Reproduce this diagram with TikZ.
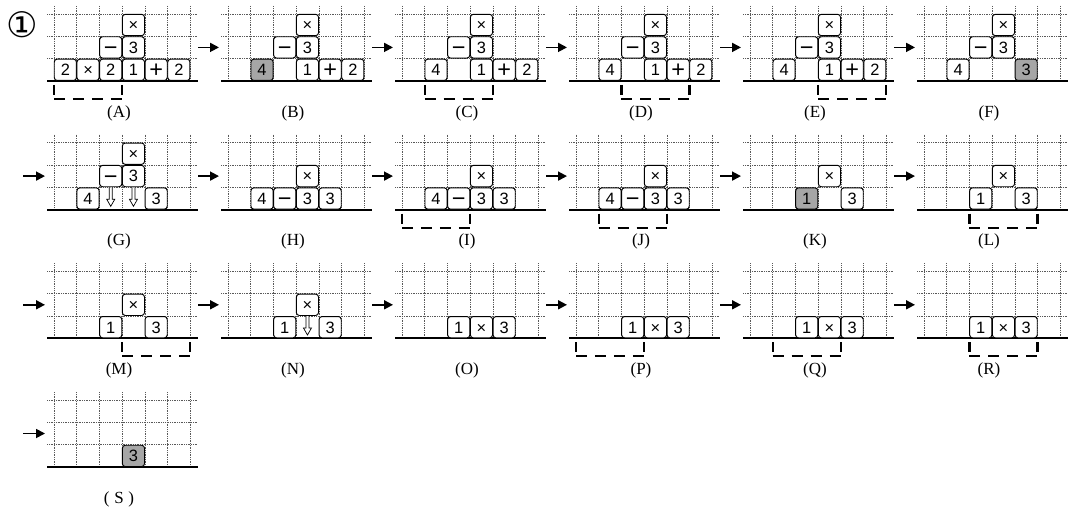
\documentclass[tikz,border=0pt]{standalone}
\usepackage{fontspec}
\setmainfont{Liberation Serif}
\newfontfamily\tilesans{Liberation Sans}
\newfontfamily\symfont{DejaVu Sans}
\usetikzlibrary{arrows.meta}

\newcommand\cw{22.7}
\newcommand\ch{22.4}
\newcommand\opr[1]{\raisebox{-1.8pt}[0pt][0pt]{\fontsize{20}{20}\selectfont#1}}

% one frame: name, column, row, label, contents
\newcommand\panel[5]{%
  \begin{scope}[shift={({54+174*#2},{81+128.7*#3})}]
    \def\pn{#1}
    \foreach \i in {0,...,6} \draw[gridline] (\i*\cw,-75) -- (\i*\cw,0);
    \foreach \j in {1,2,3} \draw[gridline] (-7,-\j*\ch) -- (143,-\j*\ch);
    \draw[ground] (-7,0) -- (144,0);
    \coordinate (#1-e) at (144,-33.6);
    \coordinate (#1-w) at (-9,-33.6);
    \coordinate (#1-lead) at (-31,-33.6);
    #5
    \node[lbl] (#1-lbl) at (65,32) {#4};
  \end{scope}}
\newcommand\tile[4][]{\node[tile,#1] (\pn-#2#3) at ({(#2+0.5)*\cw},{-(#3+0.5)*\ch}) {#4};}
\newcommand\brk[1]{%
  \draw[brtick] (#1*\cw,4) -- (#1*\cw,14);
  \draw[brtick] ({(#1+3)*\cw},4) -- ({(#1+3)*\cw},14);
  \draw[brline] (#1*\cw,18) -- ({(#1+3)*\cw},18);}
\newcommand\drop[1]{%
  \draw[hollow] ({(#1+0.5)*\cw-1.5},-\ch) -- ++(0,12) -- ++(-2.5,0) -- ++(4,7)
    -- ++(4,-7) -- ++(-2.5,0) -- ++(0,-12);}

\begin{document}
\begin{tikzpicture}[x=0.03cm,y=-0.03cm,
  gridline/.style={line width=0.5pt,black!65,dash pattern=on 0.6pt off 0.9pt},
  ground/.style={line width=1.7pt,black},
  tile/.style={draw=black,line width=0.8pt,rounded corners=2.5pt,fill=white,
               minimum width=0.665cm,minimum height=0.64cm,inner sep=0pt,
               text height=10pt,text depth=0pt,font=\tilesans\fontsize{14}{14}\selectfont},
  hilite/.style={fill=black!35},
  brtick/.style={line width=2pt,black},
  brline/.style={line width=1.7pt,black,dash pattern=on 9.4pt off 6.8pt},
  hollow/.style={line width=0.6pt,black,fill=white,line join=miter},
  lbl/.style={font=\fontsize{14.5}{16}\selectfont},
  flow/.style={-{Triangle[length=7.5pt,width=7.5pt]},line width=1.5pt}]

  \useasboundingbox (0,0) rectangle (1076,509);

  \node[font=\symfont\fontsize{30}{30}\selectfont] (num) at (22,25) {①};

  % first row
  \panel{A}{0}{0}{(A)}{%
    \tile{0}{0}{2}\tile{1}{0}{×}\tile{2}{0}{2}\tile{3}{0}{1}\tile{4}{0}{\opr{+}}\tile{5}{0}{2}
    \tile{2}{1}{\opr{−}}\tile{3}{1}{3}\tile{3}{2}{×}
    \brk{0}}
  \panel{B}{1}{0}{(B)}{%
    \tile[hilite]{1}{0}{4}\tile{3}{0}{1}\tile{4}{0}{\opr{+}}\tile{5}{0}{2}
    \tile{2}{1}{\opr{−}}\tile{3}{1}{3}\tile{3}{2}{×}}
  \panel{C}{2}{0}{(C)}{%
    \tile{1}{0}{4}\tile{3}{0}{1}\tile{4}{0}{\opr{+}}\tile{5}{0}{2}
    \tile{2}{1}{\opr{−}}\tile{3}{1}{3}\tile{3}{2}{×}
    \brk{1}}
  \panel{D}{3}{0}{(D)}{%
    \tile{1}{0}{4}\tile{3}{0}{1}\tile{4}{0}{\opr{+}}\tile{5}{0}{2}
    \tile{2}{1}{\opr{−}}\tile{3}{1}{3}\tile{3}{2}{×}
    \brk{2}}
  \panel{E}{4}{0}{(E)}{%
    \tile{1}{0}{4}\tile{3}{0}{1}\tile{4}{0}{\opr{+}}\tile{5}{0}{2}
    \tile{2}{1}{\opr{−}}\tile{3}{1}{3}\tile{3}{2}{×}
    \brk{3}}
  \panel{F}{5}{0}{(F)}{%
    \tile{1}{0}{4}\tile[hilite]{4}{0}{3}
    \tile{2}{1}{\opr{−}}\tile{3}{1}{3}\tile{3}{2}{×}}

  % second row
  \panel{G}{0}{1}{(G)}{%
    \tile{1}{0}{4}\drop{2}\drop{3}\tile{4}{0}{3}
    \tile{2}{1}{\opr{−}}\tile{3}{1}{3}\tile{3}{2}{×}}
  \panel{H}{1}{1}{(H)}{%
    \tile{1}{0}{4}\tile{2}{0}{\opr{−}}\tile{3}{0}{3}\tile{4}{0}{3}\tile{3}{1}{×}}
  \panel{I}{2}{1}{(I)}{%
    \tile{1}{0}{4}\tile{2}{0}{\opr{−}}\tile{3}{0}{3}\tile{4}{0}{3}\tile{3}{1}{×}
    \brk{0}}
  \panel{J}{3}{1}{(J)}{%
    \tile{1}{0}{4}\tile{2}{0}{\opr{−}}\tile{3}{0}{3}\tile{4}{0}{3}\tile{3}{1}{×}
    \brk{1}}
  \panel{K}{4}{1}{(K)}{%
    \tile[hilite]{2}{0}{1}\tile{4}{0}{3}\tile{3}{1}{×}}
  \panel{L}{5}{1}{(L)}{%
    \tile{2}{0}{1}\tile{4}{0}{3}\tile{3}{1}{×}
    \brk{2}}

  % third row
  \panel{M}{0}{2}{(M)}{%
    \tile{2}{0}{1}\tile{4}{0}{3}\tile{3}{1}{×}
    \brk{3}}
  \panel{N}{1}{2}{(N)}{%
    \tile{2}{0}{1}\drop{3}\tile{4}{0}{3}\tile{3}{1}{×}}
  \panel{O}{2}{2}{(O)}{%
    \tile{2}{0}{1}\tile{3}{0}{×}\tile{4}{0}{3}}
  \panel{P}{3}{2}{(P)}{%
    \tile{2}{0}{1}\tile{3}{0}{×}\tile{4}{0}{3}
    \brk{0}}
  \panel{Q}{4}{2}{(Q)}{%
    \tile{2}{0}{1}\tile{3}{0}{×}\tile{4}{0}{3}
    \brk{1}}
  \panel{R}{5}{2}{(R)}{%
    \tile{2}{0}{1}\tile{3}{0}{×}\tile{4}{0}{3}
    \brk{2}}

  % last row
  \panel{S}{0}{3}{(\;S\;)}{%
    \tile[hilite]{3}{0}{3}}

  % steps
  \foreach \a/\b in {A/B,B/C,C/D,D/E,E/F,G/H,H/I,I/J,J/K,K/L,M/N,N/O,O/P,P/Q,Q/R}
    \draw[flow] (\a-e) -- (\b-w);
  \foreach \a in {G,M,S}
    \draw[flow] (\a-lead) -- (\a-w);
\end{tikzpicture}
\end{document}
